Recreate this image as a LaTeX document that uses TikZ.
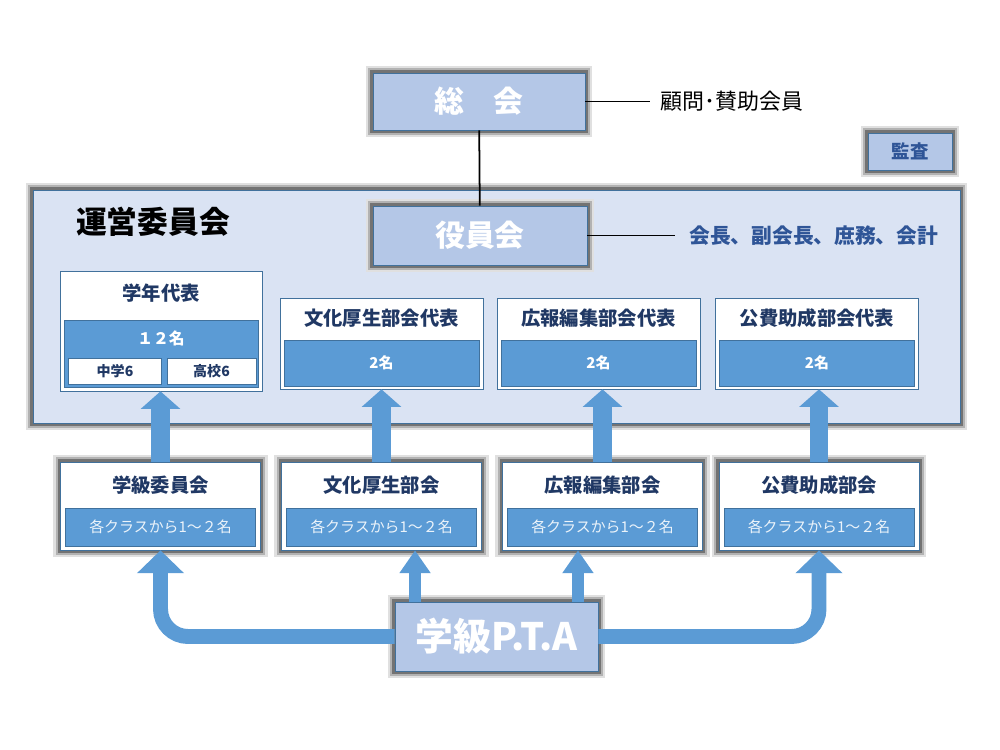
\documentclass[tikz,border=0pt]{standalone}
\usepackage{fontspec}
\setmainfont{Noto Sans CJK JP}
\usetikzlibrary{arrows.meta, positioning, calc}

\definecolor{paneblue}{HTML}{DAE3F3}
\definecolor{headblue}{HTML}{B4C7E7}
\definecolor{barblue}{HTML}{5B9BD5}
\definecolor{edgeblue}{HTML}{41719C}
\definecolor{navy}{HTML}{203864}
\definecolor{roleblue}{HTML}{2F5597}

\begin{document}
\begin{tikzpicture}[
        x=0.02cm, y=-0.02cm,
        glow/.style={
            preaction={draw=black!12, line width=8pt},
            preaction={draw=black!30, line width=5.5pt},
            preaction={draw=black!55, line width=3pt}
        },
        headbox/.style={
            draw=edgeblue,
            fill=headblue,
            glow,
            text=white,
            font=\fontsize{17}{20}\selectfont\bfseries
        },
        unitbox/.style={
            draw=edgeblue,
            fill=white,
            glow,
            minimum width=4cm,
            minimum height=1.76cm
        },
        repbox/.style={
            draw=edgeblue,
            fill=white,
            minimum width=4.06cm,
            minimum height=1.82cm
        },
        bar/.style={
            draw=edgeblue,
            fill=barblue,
            text=white,
            font=\fontsize{8.5}{10}\selectfont\bfseries
        },
        unitbar/.style={
            bar,
            minimum width=3.8cm,
            minimum height=0.76cm,
            text=white!88!barblue,
            font=\fontsize{8.5}{10}\selectfont
        },
        gradecell/.style={
            draw=edgeblue,
            fill=white,
            minimum width=1.85cm,
            minimum height=0.52cm,
            text=navy,
            font=\fontsize{8}{10}\selectfont\bfseries
        },
        boxtitle/.style={
            text=navy,
            font=\fontsize{11}{13}\selectfont\bfseries,
            inner sep=0pt
        },
        rise/.style={
            draw=barblue,
            line width=10.5pt,
            -{Triangle[width=22pt, length=10pt]}
        },
        ptarise/.style={
            draw=barblue,
            line width=8.5pt,
            -{Triangle[width=26pt, length=13pt]}
        },
        tie/.style={draw=black, line width=1pt}
    ]
    \useasboundingbox (0,0) rectangle (1000,750);

    % general meeting
    \node[headbox, minimum width=4.24cm, minimum height=1.14cm] (sokai) at (479,101.5) {総　会};
    \node[right=1.3cm of sokai, inner sep=2pt, outer sep=4pt,
        font=\fontsize{12.5}{15}\selectfont] (komon) {顧問･賛助会員};
    \draw[tie] (sokai.east) -- (komon.west);
    \node[headbox, minimum width=1.68cm, minimum height=0.74cm, text=roleblue,
        font=\fontsize{10.5}{12}\selectfont\bfseries] (kansa) at (910,151.5) {監査};

    % steering committee
    \node[draw=edgeblue, fill=paneblue, glow, minimum width=18.54cm, minimum height=4.66cm] (unei) at (496.5,306.5) {};
    \node[anchor=west, font=\fontsize{17.5}{20}\selectfont\bfseries] (ueilabel) at (70,222) {運営委員会};
    \node[headbox, minimum width=4.28cm, minimum height=1.18cm] (yakuin) at (480,235.5) {役員会};
    \node[right=1.76cm of yakuin, inner sep=2pt, outer sep=6pt, text=roleblue,
        font=\fontsize{11.8}{14}\selectfont\bfseries] (officers) {会長、副会長、庶務、会計};
    \draw[tie] (sokai) -- (yakuin);
    \draw[tie] (yakuin.east) -- (officers.west);

    % representatives
    \node[repbox, minimum width=4.04cm, minimum height=2.4cm] (gakunen) at (161,331) {};
    \node[boxtitle, below=0.25cm of gakunen.north] (gakunentitle) {学年代表};
    \node[bar, minimum width=3.88cm, minimum height=1.34cm, above=0.08cm of gakunen.south] (gakunenbar) {};
    \node[inner sep=0pt, text=white, font=\fontsize{9}{11}\selectfont\bfseries,
        below=0.22cm of gakunenbar.north] (gakunencount) {１２名};
    \node[gradecell] (chu) at (115,371) {中学6};
    \node[gradecell, minimum width=1.78cm] (ko) at (211.5,371) {高校6};

    \node[repbox] (bunkarep) at (381.5,343.5) {};
    \node[boxtitle, below=0.21cm of bunkarep.north] (bunkareptitle) {文化厚生部会代表};
    \node[bar, minimum width=3.9cm, minimum height=0.92cm, above=0.06cm of bunkarep.south] (bunkarepbar) {2名};

    \node[repbox] (kohorep) at (598.5,343.5) {};
    \node[boxtitle, below=0.21cm of kohorep.north] (kohoreptitle) {広報編集部会代表};
    \node[bar, minimum width=3.9cm, minimum height=0.92cm, above=0.06cm of kohorep.south] (kohorepbar) {2名};

    \node[repbox] (kohirep) at (817,343.5) {};
    \node[boxtitle, below=0.21cm of kohirep.north] (kohireptitle) {公費助成部会代表};
    \node[bar, minimum width=3.9cm, minimum height=0.92cm, above=0.06cm of kohirep.south] (kohirepbar) {2名};

    % committees
    \node[unitbox] (gakkyu) at (160.5,506) {};
    \node[boxtitle, below=0.27cm of gakkyu.north] (gakkyutitle) {学級委員会};
    \node[unitbar, above=0.08cm of gakkyu.south] (gakkyubar) {各クラスから1～２名};

    \node[unitbox] (bunka) at (381.5,506) {};
    \node[boxtitle, below=0.27cm of bunka.north] (bunkatitle) {文化厚生部会};
    \node[unitbar, above=0.08cm of bunka.south] (bunkabar) {各クラスから1～２名};

    \node[unitbox] (koho) at (602.5,506) {};
    \node[boxtitle, below=0.27cm of koho.north] (kohotitle) {広報編集部会};
    \node[unitbar, above=0.08cm of koho.south] (kohobar) {各クラスから1～２名};

    \node[unitbox] (kohi) at (819,506) {};
    \node[boxtitle, below=0.27cm of kohi.north] (kohititle) {公費助成部会};
    \node[unitbar, above=0.08cm of kohi.south] (kohibar) {各クラスから1～２名};

    \draw[rise] (gakkyu.north) -- (gakkyu.north |- gakunen.south);
    \draw[rise] (bunka.north) -- (bunka.north |- bunkarep.south);
    \draw[rise] (koho.north) -- (koho.north |- kohorep.south);
    \draw[rise] (kohi.north) -- (kohi.north |- kohirep.south);

    % class PTA
    \node[headbox, minimum width=4.06cm, minimum height=1.38cm,
        font=\fontsize{21.5}{24}\selectfont\bfseries] (pta) at (496.5,636.5) {学級P.T.A};
    \coordinate (ptaleft) at ($(pta.north west)!0.1!(pta.north east)$);
    \coordinate (ptaright) at ($(pta.north west)!0.9!(pta.north east)$);
    \draw[ptarise, rounded corners=0.55cm] (pta.west) -| (gakkyu.south);
    \draw[ptarise, rounded corners=0.55cm] (pta.east) -| (kohi.south);
    \draw[ptarise, line width=7pt, -{Triangle[width=17pt, length=13pt]}] (ptaleft) -- (ptaleft |- bunka.south);
    \draw[ptarise, line width=7pt, -{Triangle[width=17pt, length=13pt]}] (ptaright) -- (ptaright |- koho.south);
\end{tikzpicture}
\end{document}
